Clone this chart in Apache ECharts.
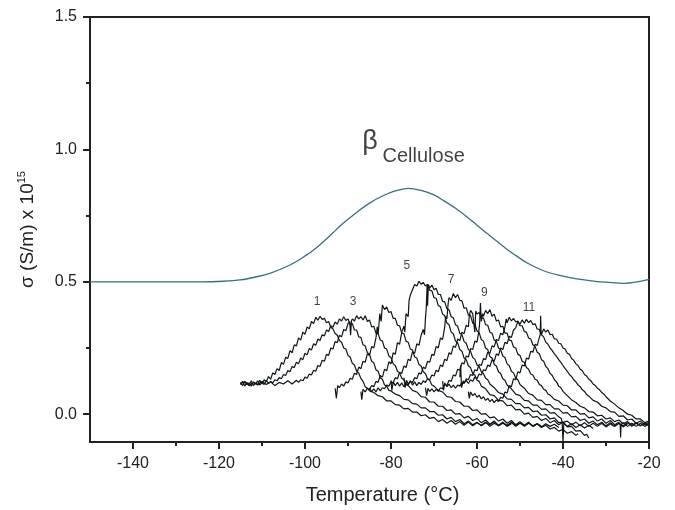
<!DOCTYPE html>
<html>
<head>
<meta charset="utf-8">
<title>beta relaxation, cellulose</title>
<script src="https://cdn.jsdelivr.net/npm/echarts@6/dist/echarts.min.js"></script>
<style>
  html, body { margin: 0; padding: 0; background: #fff; }
  #chart { width: 675px; height: 510px; }
</style>
</head>
<body>
<div id="chart"></div>
<script>
  // global curve, [temperature, sigma]
  var betaCurve = [[-150,.5],[-140,.5],[-130,.5],[-124,.5],[-119,.502],[-115,.507],[-111,.52],[-108,.533],[-105,.552],[-102.5,.572],[-100.5,.592],[-98,.62],[-95.8,.65],[-93.5,.685],[-91.2,.72],[-88,.762],[-85,.797],[-82,.824],[-79,.843],[-76,.853],[-73,.845],[-70,.828],[-67.9,.808],[-65,.778],[-62.3,.745],[-60,.714],[-57.7,.683],[-55,.648],[-53,.622],[-50.5,.594],[-48.4,.572],[-46,.552],[-43.7,.537],[-41,.525],[-38.4,.516],[-35,.507],[-32,.501],[-28.5,.497],[-25.5,.494],[-23,.499],[-20,.509]];

  // partial runs 1..12
  var c1 = [[-115,.112],[-114.5,.124],[-114,.106],[-113.5,.12],[-113,.11],[-112.5,.126],[-112,.108],[-111.5,.118],[-111,.112],[-110.5,.128],[-110,.114],[-109.5,.13],[-109,.122],[-108.5,.142],[-108,.132],[-107.5,.156],[-107,.15],[-106.5,.172],[-106,.165],[-105.5,.195],[-105,.188],[-104.5,.215],[-104,.21],[-103.5,.24],[-103,.232],[-102.5,.262],[-102,.258],[-101.5,.288],[-101,.28],[-100.5,.31],[-100,.302],[-99.5,.33],[-99,.322],[-98.5,.35],[-98,.342],[-97.5,.366],[-97,.355],[-96.5,.37],[-96,.358],[-95.5,.362],[-95,.345],[-94.5,.35],[-94,.328],[-93.5,.322],[-93,.305],[-92.5,.298],[-92,.278],[-91.5,.272],[-91,.25],[-90.5,.246],[-90,.222],[-89.5,.216],[-89,.192],[-88.5,.186],[-88,.162],[-87.5,.155],[-87,.135],[-86.5,.124],[-86,.104],[-85.5,.098],[-85,.088],[-84,.082],[-83,.07],[-82,.066],[-81,.05],[-80,.05],[-79,.036],[-78,.034],[-77,.02],[-76,.022],[-75,.008],[-74,.008],[-73,-.006],[-72,-.002],[-71,-.016],[-70,-.012],[-69,-.028],[-68,-.02],[-67,-.034],[-66,-.024],[-65,-.038],[-64,-.028],[-63,-.042],[-62,-.03],[-61,-.044],[-60,-.032],[-59,-.042],[-58,-.03],[-57,-.046],[-56,-.034],[-55,-.044],[-54,-.032],[-53,-.046],[-52,-.036]];
  var c2 = [[-115,.12],[-114.5,.108],[-114,.124],[-113.5,.112],[-113,.118],[-112.5,.106],[-112,.122],[-111.5,.114],[-111,.126],[-110.5,.11],[-110,.12],[-109.5,.112],[-109,.128],[-108.5,.116],[-108,.124],[-107.5,.118],[-107,.13],[-106.5,.126],[-106,.138],[-105.5,.134],[-105,.15],[-104.5,.146],[-104,.165],[-103.5,.16],[-103,.18],[-102.5,.176],[-102,.196],[-101.5,.19],[-101,.212],[-100.5,.206],[-100,.23],[-99.5,.224],[-99,.248],[-98.5,.242],[-98,.266],[-97.5,.26],[-97,.284],[-96.5,.278],[-96,.3],[-95.5,.295],[-95,.318],[-94.5,.312],[-94,.334],[-93.5,.328],[-93,.348],[-92.5,.34],[-92,.36],[-91.5,.352],[-91,.368],[-90.5,.354],[-90,.36],[-89.5,.34],[-89,.342],[-88.5,.318],[-88,.318],[-87.5,.292],[-87,.29],[-86.5,.262],[-86,.258],[-85.5,.232],[-85,.226],[-84.5,.2],[-84,.194],[-83.5,.168],[-83,.162],[-82.5,.138],[-82,.132],[-81.5,.11],[-81,.106],[-80.5,.09],[-80,.088],[-79,.076],[-78,.07],[-77,.056],[-76,.054],[-75,.04],[-74,.038],[-73,.024],[-72,.024],[-71,.01],[-70,.01],[-69,-.004],[-68,-.002],[-67,-.018],[-66,-.012],[-65,-.028],[-64,-.02],[-63,-.036],[-62,-.026],[-61,-.04],[-60,-.03],[-59,-.044],[-58,-.032],[-57,-.04],[-56,-.028],[-55,-.044],[-54,-.034],[-53,-.042],[-52,-.03],[-51,-.044],[-50,-.032],[-49,-.046],[-48,-.034],[-47,-.044],[-46,-.036],[-45,-.046]];
  var c3 = [[-115,.116],[-114,.122],[-113,.108],[-112,.12],[-111,.11],[-110,.124],[-109,.112],[-108,.122],[-107,.108],[-106,.12],[-105,.114],[-104,.126],[-103,.114],[-102,.128],[-101.5,.12],[-101,.13],[-100.5,.126],[-100,.14],[-99.5,.136],[-99,.152],[-98.5,.148],[-98,.166],[-97.5,.162],[-97,.184],[-96.5,.18],[-96,.204],[-95.5,.2],[-95,.226],[-94.5,.222],[-94,.25],[-93.5,.246],[-93,.274],[-92.5,.27],[-92,.298],[-91.5,.292],[-91,.32],[-90.5,.315],[-90,.342],[-89.6,.35],[-89.4,.298],[-89.2,.352],[-89,.36],[-88.5,.352],[-88,.372],[-87.5,.36],[-87,.368],[-86.5,.356],[-86,.372],[-85.5,.35],[-85,.356],[-84.5,.33],[-84,.332],[-83.5,.306],[-83,.305],[-82.5,.28],[-82,.276],[-81.5,.25],[-81,.246],[-80.5,.22],[-80,.214],[-79.5,.19],[-79,.184],[-78.5,.162],[-78,.156],[-77.5,.136],[-77,.13],[-76.5,.112],[-76,.108],[-75,.09],[-74,.084],[-73,.066],[-72,.064],[-71,.046],[-70,.046],[-69,.03],[-68,.03],[-67,.014],[-66,.016],[-65,0],[-64,.002],[-63,-.014],[-62,-.008],[-61,-.024],[-60,-.016],[-59,-.032],[-58,-.022],[-57,-.038],[-56,-.026],[-55,-.042],[-54,-.03],[-53,-.044],[-52,-.032],[-51,-.046],[-50,-.034],[-49,-.044],[-48,-.032],[-47,-.046],[-46,-.036],[-45,-.048],[-44,-.036],[-43,-.046],[-42,-.038],[-41,-.05]];
  var c4 = [[-93,.098],[-92.7,.06],[-92.4,.108],[-92,.1],[-91.5,.114],[-91,.106],[-90.5,.122],[-90,.118],[-89.5,.136],[-89,.132],[-88.5,.155],[-88,.15],[-87.5,.178],[-87,.172],[-86.5,.2],[-86,.196],[-85.5,.228],[-85,.222],[-84.5,.256],[-84,.25],[-83.5,.288],[-83.2,.33],[-83,.3],[-82.6,.38],[-82.3,.35],[-82,.412],[-81.5,.395],[-81,.405],[-80.5,.384],[-80,.388],[-79.5,.362],[-79,.362],[-78.5,.336],[-78,.334],[-77.5,.306],[-77,.304],[-76.5,.276],[-76,.272],[-75.5,.246],[-75,.242],[-74.5,.216],[-74,.212],[-73.5,.188],[-73,.182],[-72.5,.16],[-72,.154],[-71.5,.134],[-71,.128],[-70.5,.11],[-70,.106],[-69,.09],[-68,.084],[-67,.066],[-66,.064],[-65,.048],[-64,.046],[-63,.03],[-62,.03],[-61,.014],[-60,.016],[-59,0],[-58,.002],[-57,-.014],[-56,-.01],[-55,-.026],[-54,-.018],[-53,-.034],[-52,-.024],[-51,-.04],[-50,-.028],[-49,-.042],[-48,-.03],[-47,-.046],[-46,-.036],[-45,-.05],[-44,-.042],[-43,-.056],[-42,-.05],[-41,-.064],[-40,-.058],[-39,-.072],[-38,-.066],[-37,-.08],[-36.5,-.074]];
  var c5 = [[-87,.085],[-86.8,.055],[-86.5,.094],[-86,.084],[-85.5,.098],[-85,.092],[-84.5,.108],[-84,.104],[-83.5,.124],[-83,.12],[-82.5,.146],[-82,.14],[-81.5,.17],[-81,.164],[-80.5,.198],[-80,.19],[-79.5,.232],[-79,.226],[-78.5,.27],[-78,.264],[-77.5,.31],[-77,.332],[-76.8,.31],[-76.5,.38],[-76,.368],[-75.8,.43],[-75.5,.45],[-75,.47],[-74.5,.49],[-74,.484],[-73.5,.502],[-73,.49],[-72.5,.498],[-72,.484],[-71.5,.49],[-71,.468],[-70.5,.466],[-70,.44],[-69.5,.438],[-69,.41],[-68.5,.406],[-68,.378],[-67.5,.372],[-67,.344],[-66.5,.338],[-66,.31],[-65.5,.304],[-65,.276],[-64.5,.27],[-64,.244],[-63.5,.238],[-63,.212],[-62.5,.206],[-62,.182],[-61.5,.176],[-61,.154],[-60.5,.148],[-60,.128],[-59.5,.124],[-59,.106],[-58,.096],[-57,.074],[-56,.07],[-55,.052],[-54,.05],[-53,.032],[-52,.034],[-51,.016],[-50,.018],[-49,0],[-48,.004],[-47,-.012],[-46,-.008],[-45,-.024],[-44,-.016],[-43,-.032],[-42,-.024],[-41,-.04],[-40,-.03],[-39,-.046],[-38,-.036],[-37,-.05],[-36,-.04],[-35,-.052],[-34,-.042],[-33,-.054]];
  var c6 = [[-85,.1],[-84.5,.084],[-84,.096],[-83.5,.084],[-83,.1],[-82.5,.088],[-82,.1],[-81.5,.096],[-81,.11],[-80.5,.106],[-80,.122],[-79.5,.118],[-79,.138],[-78.5,.134],[-78,.158],[-77.5,.154],[-77,.182],[-76.5,.176],[-76,.208],[-75.5,.202],[-75,.236],[-74.5,.23],[-74,.266],[-73.5,.26],[-73,.298],[-72.5,.32],[-72.2,.3],[-72,.36],[-71.8,.4],[-71.6,.49],[-71.5,.41],[-71.3,.49],[-71,.476],[-70.5,.488],[-70,.47],[-69.5,.476],[-69,.452],[-68.5,.452],[-68,.426],[-67.5,.424],[-67,.398],[-66.5,.394],[-66,.368],[-65.5,.364],[-65,.338],[-64.5,.332],[-64,.306],[-63.5,.3],[-63,.274],[-62.5,.268],[-62,.244],[-61.5,.238],[-61,.214],[-60.5,.208],[-60,.186],[-59.5,.18],[-59,.16],[-58.5,.154],[-58,.136],[-57.5,.13],[-57,.114],[-56,.1],[-55,.082],[-54,.076],[-53,.058],[-52,.056],[-51,.04],[-50,.04],[-49,.024],[-48,.026],[-47,.01],[-46,.012],[-45,-.004],[-44,-.002],[-43,-.018],[-42,-.014],[-41,-.032],[-40,-.03],[-39,-.048],[-38,-.046],[-37,-.064],[-36,-.062],[-35,-.08],[-34.5,-.076],[-34,-.09]];
  var c7 = [[-80,.128],[-79.8,.09],[-79.5,.122],[-79,.108],[-78.5,.12],[-78,.106],[-77.5,.118],[-77,.104],[-76.5,.116],[-76,.11],[-75.5,.124],[-75,.12],[-74.5,.138],[-74,.134],[-73.5,.156],[-73,.152],[-72.5,.178],[-72,.172],[-71.5,.2],[-71,.196],[-70.5,.226],[-70,.222],[-69.5,.256],[-69,.25],[-68.5,.288],[-68,.282],[-67.5,.33],[-67.3,.37],[-67,.36],[-66.7,.42],[-66.5,.44],[-66,.43],[-65.5,.456],[-65,.44],[-64.5,.452],[-64,.43],[-63.5,.428],[-63,.4],[-62.5,.402],[-62,.374],[-61.5,.372],[-61,.344],[-60.5,.34],[-60,.314],[-59.5,.308],[-59,.282],[-58.5,.276],[-58,.25],[-57.5,.244],[-57,.218],[-56.5,.212],[-56,.188],[-55.5,.182],[-55,.16],[-54.5,.154],[-54,.134],[-53.5,.128],[-53,.11],[-52,.096],[-51,.076],[-50,.07],[-49,.052],[-48,.05],[-47,.034],[-46,.034],[-45,.018],[-44,.02],[-43,.004],[-42,.006],[-41,-.01],[-40.4,-.016],[-40.2,-.03],[-40,-.104],[-39.8,-.03],[-39,-.026],[-38,-.04],[-37,-.03],[-36,-.044],[-35,-.032],[-34,-.046],[-33,-.034],[-32,-.046],[-31,-.034],[-30,-.048],[-29,-.036],[-28,-.046],[-27,-.034],[-26,-.048],[-25,-.036]];
  var c8 = [[-77,.138],[-76.7,.1],[-76.4,.128],[-76,.114],[-75.5,.126],[-75,.11],[-74.5,.122],[-74,.108],[-73.5,.12],[-73,.112],[-72.5,.126],[-72,.12],[-71.5,.134],[-71,.13],[-70.5,.148],[-70,.144],[-69.5,.166],[-69,.16],[-68.5,.186],[-68,.18],[-67.5,.208],[-67,.202],[-66.5,.232],[-66,.226],[-65.5,.258],[-65,.252],[-64.5,.284],[-64,.278],[-63.5,.31],[-63,.304],[-62.5,.336],[-62,.33],[-61.8,.37],[-61.5,.392],[-61,.38],[-60.7,.386],[-60.5,.31],[-60.3,.39],[-60,.378],[-59.5,.384],[-59,.362],[-58.5,.364],[-58,.338],[-57.5,.336],[-57,.31],[-56.5,.306],[-56,.28],[-55.5,.276],[-55,.25],[-54.5,.244],[-54,.22],[-53.5,.214],[-53,.19],[-52.5,.184],[-52,.162],[-51.5,.156],[-51,.136],[-50.5,.13],[-50,.112],[-49,.098],[-48,.078],[-47,.072],[-46,.054],[-45,.052],[-44,.036],[-43,.036],[-42,.02],[-41,.02],[-40,.004],[-39,.006],[-38,-.01],[-37,-.008],[-36,-.024],[-35,-.018],[-34,-.034],[-33,-.026],[-32,-.04],[-31,-.03],[-30,-.044],[-29,-.032],[-28,-.046],[-27,-.034],[-26,-.044],[-25,-.032],[-24,-.046],[-23,-.034],[-22,-.044],[-21,-.032],[-20,-.042]];
  var c9 = [[-72,.1],[-71.7,.07],[-71.4,.098],[-71,.086],[-70.5,.096],[-70,.084],[-69.5,.094],[-69,.086],[-68.5,.1],[-68,.096],[-67.5,.112],[-67,.108],[-66.5,.128],[-66,.124],[-65.5,.148],[-65,.144],[-64.5,.17],[-64,.166],[-63.5,.194],[-63,.19],[-62.5,.22],[-62,.216],[-61.5,.248],[-61,.244],[-60.5,.276],[-60,.272],[-59.6,.31],[-59.4,.34],[-59.2,.42],[-59,.35],[-58.7,.38],[-58.5,.37],[-58,.392],[-57.5,.38],[-57,.395],[-56.5,.37],[-56,.378],[-55.5,.352],[-55,.356],[-54.5,.33],[-54,.332],[-53.5,.306],[-53,.306],[-52.5,.28],[-52,.278],[-51.5,.254],[-51,.25],[-50.5,.226],[-50,.222],[-49.5,.2],[-49,.196],[-48.5,.176],[-48,.17],[-47.5,.152],[-47,.148],[-46.5,.132],[-46,.128],[-45.5,.112],[-45,.108],[-44.5,.094],[-44,.09],[-43.5,.076],[-43,.072],[-42,.056],[-41,.05],[-40,.034],[-39,.032],[-38,.016],[-37,.016],[-36,0],[-35,.002],[-34,-.014],[-33,-.01],[-32,-.026],[-31,-.018],[-30,-.034],[-29,-.024],[-28,-.04],[-27,-.03],[-26.7,-.04],[-26.6,-.088],[-26.5,-.04],[-26,-.032],[-25,-.046],[-24,-.034],[-23,-.046],[-22,-.034],[-21,-.046],[-20,-.036]];
  var c10 = [[-68,.125],[-67.8,.09],[-67.5,.118],[-67,.104],[-66.5,.114],[-66,.1],[-65.5,.11],[-65,.098],[-64.5,.11],[-64,.106],[-63.5,.12],[-63,.116],[-62.5,.134],[-62,.13],[-61.5,.15],[-61,.146],[-60.5,.168],[-60,.164],[-59.5,.188],[-59,.184],[-58.5,.21],[-58,.206],[-57.5,.234],[-57,.23],[-56.5,.258],[-56,.254],[-55.5,.282],[-55,.278],[-54.5,.306],[-54,.3],[-53.5,.33],[-53.2,.36],[-53,.345],[-52.5,.366],[-52,.352],[-51.5,.362],[-51,.348],[-50.5,.352],[-50,.334],[-49.5,.334],[-49,.312],[-48.5,.31],[-48,.288],[-47.5,.284],[-47,.262],[-46.5,.256],[-46,.234],[-45.5,.228],[-45,.206],[-44.5,.2],[-44,.18],[-43.5,.172],[-43,.154],[-42.5,.146],[-42,.13],[-41.5,.122],[-41,.106],[-40.5,.1],[-40,.086],[-39,.07],[-38,.054],[-37,.044],[-36,.03],[-35,.024],[-34,.01],[-33,.008],[-32,-.006],[-31,-.004],[-30,-.018],[-29,-.014],[-28,-.028],[-27,-.022],[-26,-.036],[-25,-.028],[-24,-.042],[-23,-.032],[-22,-.044],[-21,-.034],[-20,-.044]];
  var c11 = [[-64,.14],[-63.8,.185],[-63.6,.1],[-63.2,.126],[-63,.118],[-62.5,.128],[-62,.116],[-61.5,.13],[-61,.124],[-60.5,.14],[-60,.134],[-59.5,.152],[-59,.148],[-58.5,.168],[-58,.164],[-57.5,.186],[-57,.18],[-56.5,.206],[-56,.2],[-55.5,.228],[-55,.222],[-54.5,.25],[-54,.244],[-53.5,.272],[-53,.266],[-52.5,.294],[-52,.29],[-51.5,.318],[-51,.326],[-50.5,.35],[-50,.34],[-49.5,.356],[-49,.344],[-48.5,.358],[-48,.346],[-47.5,.354],[-47,.338],[-46.5,.342],[-46,.322],[-45.5,.32],[-45,.3],[-44.5,.292],[-44,.272],[-43.5,.264],[-43,.25],[-42.5,.24],[-42,.228],[-41.5,.218],[-41,.206],[-40.5,.196],[-40,.184],[-39.5,.172],[-39,.162],[-38.5,.15],[-38,.142],[-37.5,.13],[-37,.122],[-36.5,.11],[-36,.104],[-35.5,.092],[-35,.086],[-34.5,.074],[-34,.068],[-33,.052],[-32,.046],[-31,.03],[-30,.024],[-29,.01],[-28,.008],[-27,-.008],[-26,-.006],[-25,-.022],[-24,-.018],[-23,-.034],[-22,-.026],[-21,-.04],[-20,-.03]];
  var c12 = [[-62,.085],[-61.8,.06],[-61.5,.084],[-61,.07],[-60.5,.078],[-60,.064],[-59.5,.072],[-59,.058],[-58.5,.066],[-58,.052],[-57.5,.06],[-57,.048],[-56.5,.056],[-56,.044],[-55.5,.054],[-55,.048],[-54.5,.064],[-54,.06],[-53.5,.084],[-53,.08],[-52.5,.108],[-52,.104],[-51.5,.134],[-51,.13],[-50.5,.16],[-50,.156],[-49.5,.186],[-49,.182],[-48.5,.212],[-48,.208],[-47.5,.238],[-47,.234],[-46.5,.264],[-46,.26],[-45.5,.29],[-45.3,.3],[-45.2,.372],[-45.1,.31],[-45,.302],[-44.5,.322],[-44,.31],[-43.5,.318],[-43,.3],[-42.5,.302],[-42,.284],[-41.5,.284],[-41,.268],[-40.5,.266],[-40,.25],[-39.5,.246],[-39,.23],[-38.5,.226],[-38,.21],[-37.5,.204],[-37,.19],[-36.5,.184],[-36,.17],[-35.5,.164],[-35,.15],[-34.5,.144],[-34,.132],[-33.5,.126],[-33,.114],[-32.5,.108],[-32,.098],[-31.5,.092],[-31,.082],[-30.5,.076],[-30,.066],[-29,.05],[-28,.038],[-27,.024],[-26,.014],[-25,0],[-24,-.004],[-23,-.018],[-22,-.018],[-21,-.032],[-20,-.026]];
  var runs = [c1, c2, c3, c4, c5, c6, c7, c8, c9, c10, c11, c12];

  var xMajorTicks = [-140, -120, -100, -80, -60, -40, -20];
  var xMinorTicks = [-130, -110, -90, -70, -50, -30];
  var yMajorTicks = [0, 0.5, 1.0, 1.5];
  var yMinorTicks = [0.25, 0.75, 1.25];

  // run numbers written above the peaks
  var runNames = ['1', '3', '5', '7', '9', '11'];
  var runNameX = [-97.2, -88.8, -76.3, -66, -58.3, -47.9];
  var runNameY = [0.423, 0.423, 0.562, 0.509, 0.457, 0.404];

  var chart = echarts.init(document.getElementById('chart'));
  var font = 'Liberation Sans, Arial, sans-serif';
  var ink = '#222';

  var series = [{
    name: 'beta',
    type: 'line',
    data: betaCurve,
    smooth: 0.3,
    showSymbol: false,
    lineStyle: { color: '#37707f', width: 1.3 },
    z: 3
  }];
  runs.forEach(function (run, i) {
    series.push({
      name: 'run ' + (i + 1),
      type: 'line',
      data: run,
      showSymbol: false,
      lineStyle: { color: '#0f1619', width: 1.2 },
      z: 2
    });
  });
  series.push({
    name: 'numbers',
    type: 'scatter',
    symbolSize: 0,
    data: runNames.map(function (n, i) {
      return { name: n, value: [runNameX[i], runNameY[i]] };
    }),
    label: { show: true, position: 'inside', formatter: '{b}', fontSize: 12, color: '#111', fontFamily: font },
    z: 5
  });
  series.push({
    name: 'note',
    type: 'scatter',
    symbolSize: 0,
    data: [
      { name: 'β', value: [-84.9, 1.03], label: { fontSize: 27 } },
      { name: 'Cellulose', value: [-72.4, 0.975], label: { fontSize: 20 } }
    ],
    label: { show: true, position: 'inside', formatter: '{b}', color: '#111', fontFamily: font },
    z: 5
  });

  var gridBox = { left: 90, right: 26, top: 17, bottom: 68 };

  var option = {
    animation: false,
    backgroundColor: '#fff',
    grid: [
      Object.assign({ show: true, borderColor: ink, borderWidth: 2 }, gridBox),
      Object.assign({ show: false }, gridBox)
    ],
    xAxis: [{
      type: 'value', gridIndex: 0, min: -150, max: -20,
      name: 'Temperature (°C)', nameLocation: 'middle', nameGap: 43,
      nameTextStyle: { fontSize: 20, color: ink, fontFamily: font, padding: [0, 0, 0, 26] },
      axisLine: { onZero: false, lineStyle: { color: ink, width: 2 } },
      axisTick: { customValues: xMajorTicks, length: 7, lineStyle: { color: ink, width: 2 } },
      axisLabel: { customValues: xMajorTicks, fontSize: 16, color: ink, fontFamily: font, margin: 14 },
      splitLine: { show: false }
    }, {
      type: 'value', gridIndex: 1, min: -150, max: -20,
      axisLine: { show: false, onZero: false },
      axisTick: { customValues: xMinorTicks, length: 4, lineStyle: { color: ink, width: 2 } },
      axisLabel: { show: false },
      splitLine: { show: false }
    }],
    yAxis: [{
      type: 'value', gridIndex: 0, min: -0.105, max: 1.5,
      name: '{a|σ (S/m) x 10}{s|15}', nameLocation: 'middle', nameGap: 50,
      nameTextStyle: {
        color: ink, fontFamily: font,
        rich: {
          a: { fontSize: 19, color: ink, fontFamily: font, lineHeight: 24 },
          s: { fontSize: 11, color: ink, fontFamily: font, verticalAlign: 'top', lineHeight: 12 }
        }
      },
      axisLine: { onZero: false, lineStyle: { color: ink, width: 2 } },
      axisTick: { customValues: yMajorTicks, length: 7, lineStyle: { color: ink, width: 2 } },
      axisLabel: {
        customValues: yMajorTicks, fontSize: 16, color: ink, fontFamily: font, margin: 13,
        formatter: function (v) { return v.toFixed(1); }
      },
      splitLine: { show: false }
    }, {
      type: 'value', gridIndex: 1, min: -0.105, max: 1.5,
      axisLine: { show: false, onZero: false },
      axisTick: { customValues: yMinorTicks, length: 4, lineStyle: { color: ink, width: 2 } },
      axisLabel: { show: false },
      splitLine: { show: false }
    }],
    series: series
  };

  chart.setOption(option);
</script>
</body>
</html>
